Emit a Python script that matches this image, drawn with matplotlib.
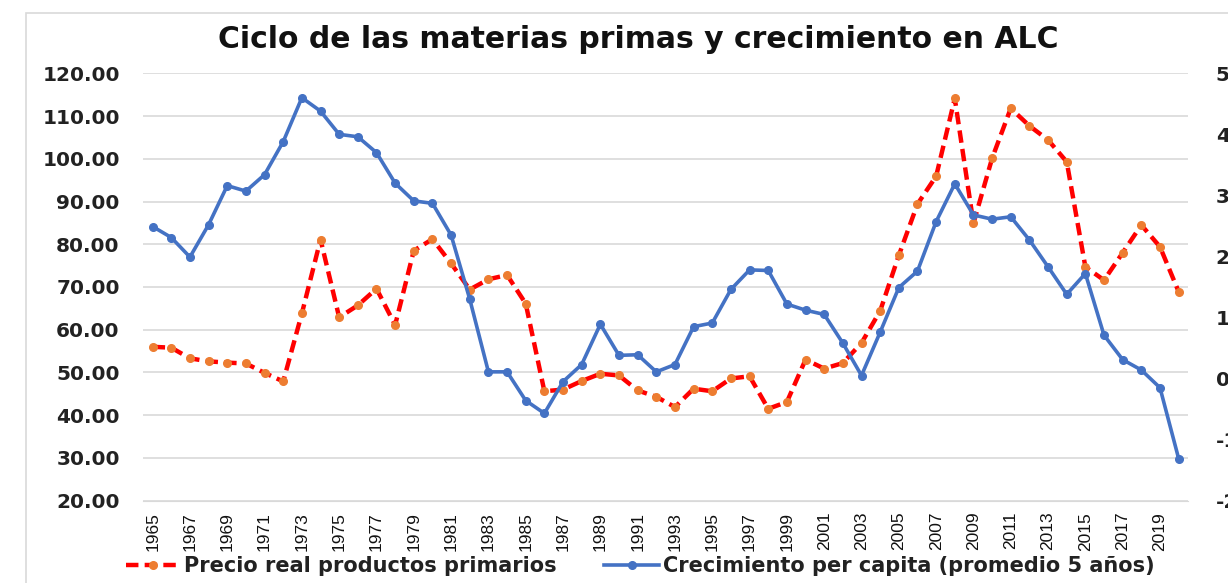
import matplotlib.pyplot as plt
from matplotlib.patches import Rectangle

years = list(range(1965, 2021))

# precio real productos primarios (eje izquierdo)
precio = [56.0, 55.8, 53.3, 52.6, 52.3, 52.1, 49.9, 47.9, 63.8, 81.1,
          62.9, 65.7, 69.6, 61.1, 78.5, 81.2, 75.5, 69.4, 71.8, 72.8,
          66.1, 45.6, 46.0, 48.0, 49.7, 49.3, 45.8, 44.3, 41.9, 46.2,
          45.6, 48.6, 49.1, 41.5, 43.1, 53.0, 50.9, 52.2, 56.9, 64.4,
          77.4, 89.4, 95.9, 114.1, 84.9, 100.1, 111.8, 107.7, 104.4, 99.3,
          74.7, 71.6, 78.0, 84.5, 79.4, 68.9]

# crecimiento per capita, promedio 5 años (eje derecho)
crecimiento = [2.49, 2.31, 1.99, 2.52, 3.16, 3.07, 3.34, 3.88, 4.60, 4.38,
               4.00, 3.96, 3.70, 3.20, 2.91, 2.87, 2.35, 1.30, 0.11, 0.11,
               -0.36, -0.57, -0.05, 0.23, 0.89, 0.38, 0.39, 0.11, 0.23, 0.85,
               0.91, 1.46, 1.78, 1.77, 1.22, 1.12, 1.05, 0.58, 0.05, 0.76,
               1.49, 1.76, 2.57, 3.19, 2.68, 2.61, 2.65, 2.27, 1.83, 1.38,
               1.72, 0.71, 0.31, 0.14, -0.15, -1.31]

left_ticks = [20, 30, 40, 50, 60, 70, 80, 90, 100, 110, 120]
right_ticks = [-2, -1, 0, 1, 2, 3, 4, 5]
year_ticks = list(range(1965, 2020, 2))

titulo = "Ciclo de las materias primas y crecimiento en ALC"
lbl_precio = "Precio real productos primarios"
lbl_crec = "Crecimiento per capita (promedio 5 años)"

fig = plt.figure(figsize=(12.28, 5.83), dpi=100)
fig.patches.append(Rectangle((26 / 1228, -0.05), 1.1, 1.05 - 13 / 583,
                             transform=fig.transFigure, fill=False,
                             edgecolor="#D9D9D9", linewidth=1.2))

ax = fig.add_axes([0.1167, 0.1412, 0.8507, 0.7331])
ax2 = ax.twinx()

l1, = ax.plot(years, precio, color="#FF0000", linestyle=(0, (2.8, 1.4)),
              linewidth=3.2, marker="o", markersize=5.5,
              markerfacecolor="#ED7D31", markeredgecolor="#ED7D31", zorder=3)
l2, = ax2.plot(years, crecimiento, color="#4472C4", linewidth=2.6,
               marker="o", markersize=5.5, zorder=3)

ax.set_xlim(1964.5, 2020.5)
ax.set_ylim(20, 120)
ax2.set_ylim(-2, 5)

ax.set_yticks(left_ticks)
ax.set_yticklabels([f"{v:.2f}" for v in left_ticks])
ax2.set_yticks(right_ticks)
ax2.set_yticklabels([f"{v:.2f}" for v in right_ticks])
ax.set_xticks(year_ticks)
ax.set_xticklabels([str(y) for y in year_ticks], rotation=90,
                   family=["Liberation Sans Narrow", "Liberation Sans"],
                   fontsize=12.5, color="#111111")

ax.grid(axis="y", color="#D9D9D9", linewidth=1.2)
ax.set_axisbelow(True)
for a in (ax, ax2):
    for s in a.spines.values():
        s.set_visible(False)
ax.spines["bottom"].set_visible(True)
ax.spines["bottom"].set_color("#D9D9D9")

ax.tick_params(axis="y", length=0, pad=17, labelsize=14.5, labelcolor="#222222")
ax2.tick_params(axis="y", length=0, pad=20, labelsize=14.5, labelcolor="#222222")
ax.tick_params(axis="x", length=0, pad=8)
for t in ax.get_yticklabels() + ax2.get_yticklabels():
    t.set_fontweight("bold")

fig.text(638 / 1228, 1 - 39 / 583, titulo, ha="center", va="center",
         fontsize=21.5, fontweight="bold", family="DejaVu Sans",
         color="#111111")

fig.legend([l1, l2], [lbl_precio, lbl_crec], loc="center",
           bbox_to_anchor=(640 / 1228, 1 - 566 / 583), ncol=2, frameon=False,
           prop={"weight": "bold", "size": 15}, handlelength=2.6,
           handletextpad=0.2, columnspacing=2.3, labelcolor="#222222")

fig.savefig("out.png", dpi=100)
